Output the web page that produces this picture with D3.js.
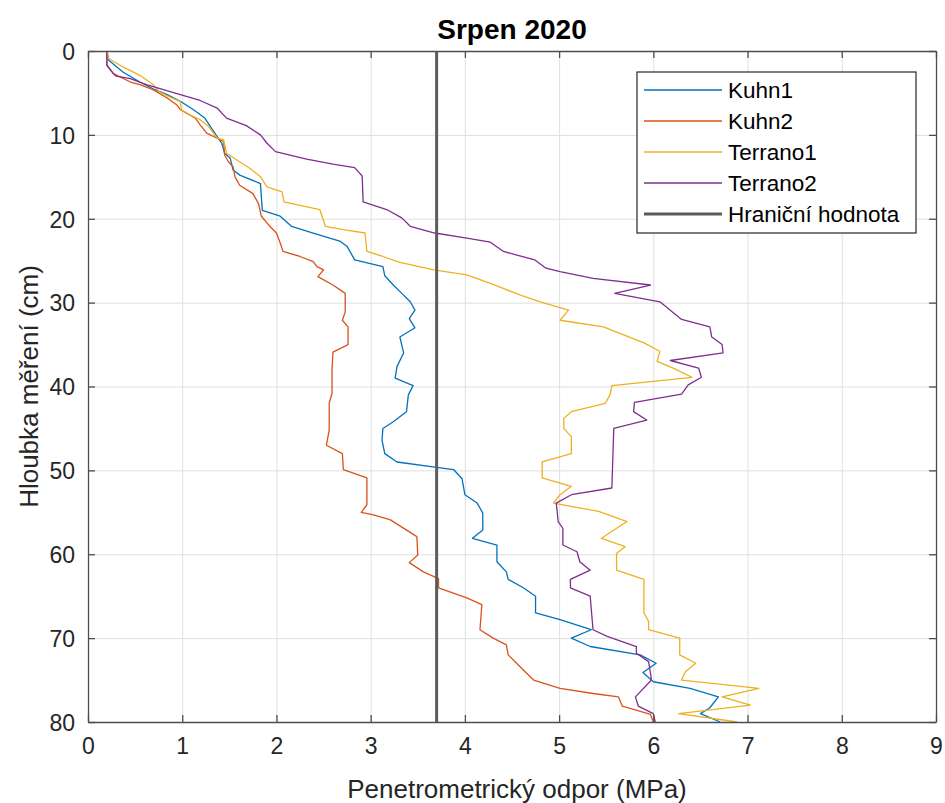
<!DOCTYPE html>
<html>
<head>
<meta charset="utf-8">
<script src="https://cdn.jsdelivr.net/npm/d3@7.9.0/dist/d3.min.js"></script>
<style>
  body { margin: 0; background: #fff; }
  svg { display: block; font-family: "Liberation Sans", Arial, sans-serif; }
</style>
</head>
<body>
<div id="chart"></div>
<script>
// Series: [odpor (MPa), hloubka (cm)]
const kuhn1 = [[0.2,0],[0.22,1.1],[0.37,2.5],[0.55,3.7],[0.69,4.5],[0.84,5.2],[0.98,6],[1.12,7],[1.24,8],[1.31,9.2],[1.37,10.2],[1.42,11],[1.45,12.2],[1.51,12.8],[1.54,14.2],[1.61,14.8],[1.83,15.8],[1.85,19],[2.04,19.7],[2.16,20.9],[2.39,21.7],[2.68,22.7],[2.75,23.3],[2.83,24.9],[3.13,25.7],[3.15,26.8],[3.24,27.9],[3.33,28.9],[3.42,29.9],[3.47,30.9],[3.41,31.9],[3.47,33],[3.31,34.1],[3.35,36],[3.28,37.6],[3.26,39],[3.45,39.9],[3.4,41],[3.38,43],[3.24,44.2],[3.13,45],[3.12,46.4],[3.15,48],[3.28,49],[3.68,49.6],[3.88,49.9],[3.97,51],[4.0,52.9],[4.13,53.9],[4.19,55.1],[4.19,57.1],[4.08,58.1],[4.34,58.9],[4.34,60.9],[4.44,62.1],[4.46,63],[4.62,64],[4.75,65],[4.75,67],[5.01,67.8],[5.34,69],[5.13,70],[5.33,71],[5.86,72],[6.03,73],[5.89,74.1],[6.0,75.2],[6.39,76],[6.69,77],[6.6,78.3],[6.5,79],[6.71,80]];

const kuhn2 = [[0.2,0],[0.2,1.7],[0.27,2.7],[0.45,3.7],[0.55,4],[0.69,4.6],[0.84,5.6],[0.94,6.4],[0.98,7],[1.14,8],[1.19,8.8],[1.26,9.8],[1.37,10.4],[1.44,10.8],[1.45,12.4],[1.49,13.2],[1.54,13.8],[1.56,15],[1.61,16],[1.75,17],[1.81,18.2],[1.84,19.7],[1.93,20.9],[2.0,21.7],[2.04,22.9],[2.07,23.9],[2.25,24.5],[2.39,25.1],[2.43,25.7],[2.5,26.1],[2.44,26.9],[2.6,27.9],[2.73,28.9],[2.73,31.1],[2.7,32.1],[2.76,32.9],[2.76,35],[2.6,35.9],[2.59,38],[2.59,40.8],[2.56,42],[2.56,45.2],[2.53,47],[2.7,48],[2.71,49.9],[2.96,50.9],[2.96,54.1],[2.9,55],[3.03,55.3],[3.21,55.9],[3.49,57.9],[3.5,60.1],[3.41,61],[3.56,62.1],[3.72,62.9],[3.72,64],[4.02,65.2],[4.18,66],[4.16,69],[4.3,70],[4.44,70.8],[4.46,72],[4.62,73.8],[4.73,75],[5.01,76],[5.36,76.6],[5.63,77],[5.67,78.1],[5.79,78.5],[5.97,79.1],[6.0,80]];

const terrano1 = [[0.2,0],[0.22,0.9],[0.37,1.9],[0.55,2.9],[0.69,4],[0.76,4.9],[0.87,5.5],[0.98,6],[0.99,7],[1.08,7.6],[1.19,8.2],[1.28,9],[1.37,10.4],[1.44,10.6],[1.47,12.2],[1.58,13],[1.72,14],[1.83,15],[1.9,16.2],[2.06,16.8],[2.08,18],[2.25,18.4],[2.46,18.9],[2.52,20.9],[2.71,21.3],[2.94,21.7],[2.96,23.9],[3.13,24.5],[3.31,25.2],[3.67,26.1],[4.02,26.7],[4.27,27.7],[4.59,29.1],[4.8,29.9],[5.1,30.9],[5.01,32.1],[5.47,32.9],[5.9,34.8],[6.07,35.8],[6.04,37],[6.21,37.8],[6.41,38.9],[5.56,39.9],[5.54,41],[5.49,42],[5.13,43],[5.05,43.8],[5.05,45],[5.13,46],[5.13,48],[4.82,49],[4.82,50.9],[5.13,51.9],[5.01,52.9],[4.94,53.9],[5.42,54.9],[5.72,56.1],[5.45,58.1],[5.7,59.1],[5.61,59.9],[5.61,61.9],[5.9,63],[5.9,67],[5.95,68],[5.95,69],[6.28,70],[6.28,72],[6.45,73],[6.34,74],[6.3,75],[7.12,76],[6.73,77],[7.03,78],[6.27,79],[6.89,80]];

const terrano2 = [[0.2,0],[0.2,1.7],[0.27,2.7],[0.3,3],[0.45,3.3],[0.62,4],[0.8,4.6],[0.98,5.2],[1.19,5.9],[1.37,6.8],[1.47,8],[1.68,8.9],[1.83,10],[1.9,11],[1.99,12],[2.32,12.9],[2.6,13.5],[2.83,13.9],[2.91,14.9],[2.92,18],[3.17,18.9],[3.33,19.9],[3.42,20.9],[3.68,21.7],[4.02,22.3],[4.27,22.8],[4.41,23.9],[4.74,24.9],[4.86,25.9],[5.01,26.3],[5.36,27.1],[5.97,27.9],[5.59,28.9],[6.07,29.9],[6.18,30.9],[6.3,32],[6.6,32.9],[6.62,34.1],[6.73,35],[6.74,36],[6.18,36.9],[6.48,37.8],[6.51,38.9],[6.37,39.8],[6.3,40.9],[5.8,41.9],[5.79,43],[5.93,44],[5.58,45],[5.56,52.1],[5.13,52.9],[4.97,53.9],[4.99,56.1],[5.04,56.9],[5.04,58.9],[5.19,59.7],[5.22,60.9],[5.33,61.9],[5.12,63],[5.12,64],[5.33,65],[5.36,69],[5.51,69.8],[5.82,71],[5.82,71.8],[5.95,72.8],[5.97,74.2],[5.98,75],[5.81,77],[5.84,78.1],[6.0,79],[6.02,80]];

const threshold = 3.7;
const seriesNames = ['Kuhn1', 'Kuhn2', 'Terrano1', 'Terrano2'];
const seriesColors = ['#0072BD', '#D95319', '#EDB120', '#7E2F8E'];
const thresholdName = 'Hraniční hodnota';
const xTicks = [0, 1, 2, 3, 4, 5, 6, 7, 8, 9];
const yTicks = [0, 10, 20, 30, 40, 50, 60, 70, 80];

const allSeries = [kuhn1, kuhn2, terrano1, terrano2];

const width = 945;
const height = 803;
const margin = { top: 51, right: 9, bottom: 81, left: 88 };
const plotW = width - margin.left - margin.right;
const plotH = height - margin.top - margin.bottom;

const svg = d3.select('#chart').append('svg')
    .attr('width', width)
    .attr('height', height);

const xScale = d3.scaleLinear().domain([0, 9]).range([margin.left, margin.left + plotW]);
const yScale = d3.scaleLinear().domain([0, 80]).range([margin.top, margin.top + plotH]);

// grid
const grid = svg.append('g').attr('class', 'grid');
grid.append('g')
    .attr('transform', `translate(0, ${margin.top + plotH})`)
    .call(d3.axisBottom(xScale).tickValues(xTicks).tickFormat('').tickSize(-plotH));
grid.append('g')
    .attr('transform', `translate(${margin.left}, 0)`)
    .call(d3.axisLeft(yScale).tickValues(yTicks).tickFormat('').tickSize(-plotW));
grid.selectAll('.domain').remove();
grid.selectAll('line').attr('stroke', '#dfdfdf').attr('stroke-width', 1);

// series lines
const line = d3.line().x((d) => xScale(d[0])).y((d) => yScale(d[1]));
const plot = svg.append('g');
allSeries.forEach((s, i) => {
    plot.append('path')
        .datum(s)
        .attr('d', line)
        .attr('fill', 'none')
        .attr('stroke', seriesColors[i])
        .attr('stroke-width', 1.3)
        .attr('stroke-linejoin', 'round');
});

// threshold line
plot.append('line')
    .attr('x1', xScale(threshold)).attr('x2', xScale(threshold))
    .attr('y1', yScale(0)).attr('y2', yScale(80))
    .attr('stroke', '#5c5c5c')
    .attr('stroke-width', 3);

// axes (ticks point inward, box on)
const axisColor = '#4d4d4d';
const textColor = '#262626';
const xAxis = svg.append('g')
    .attr('transform', `translate(0, ${margin.top + plotH})`)
    .call(d3.axisBottom(xScale).tickValues(xTicks).tickSize(-7).tickPadding(16).tickSizeOuter(0));
const yAxis = svg.append('g')
    .attr('transform', `translate(${margin.left}, 0)`)
    .call(d3.axisLeft(yScale).tickValues(yTicks).tickSize(-7).tickPadding(13).tickSizeOuter(0));
const xTop = svg.append('g')
    .attr('transform', `translate(0, ${margin.top})`)
    .call(d3.axisTop(xScale).tickValues(xTicks).tickSize(-7).tickFormat('').tickSizeOuter(0));
const yRight = svg.append('g')
    .attr('transform', `translate(${margin.left + plotW}, 0)`)
    .call(d3.axisRight(yScale).tickValues(yTicks).tickSize(-7).tickFormat('').tickSizeOuter(0));

[xAxis, yAxis, xTop, yRight].forEach((g) => {
    g.selectAll('.domain').attr('stroke', axisColor).attr('stroke-width', 1.3);
    g.selectAll('line').attr('stroke', axisColor).attr('stroke-width', 1.3);
    g.selectAll('text').attr('fill', textColor).style('font-size', '23px')
        .style('font-family', '"Liberation Sans", Arial, sans-serif');
});
yAxis.selectAll('text').attr('dy', '0.36em');

// title and axis labels
svg.append('text')
    .attr('x', margin.left + plotW / 2)
    .attr('y', 39)
    .attr('text-anchor', 'middle')
    .attr('fill', '#000')
    .style('font-size', '28px')
    .style('font-weight', 'bold')
    .text('Srpen 2020');

svg.append('text')
    .attr('x', margin.left + plotW / 2 + 5)
    .attr('y', 798)
    .attr('text-anchor', 'middle')
    .attr('fill', textColor)
    .style('font-size', '26px')
    .text('Penetrometrický odpor (MPa)');

svg.append('text')
    .attr('transform', `translate(38, ${margin.top + plotH / 2}) rotate(-90)`)
    .attr('text-anchor', 'middle')
    .attr('fill', textColor)
    .style('font-size', '26px')
    .text('Hloubka měření (cm)');

// legend
const legend = svg.append('g').attr('transform', 'translate(637, 72)');
legend.append('rect')
    .attr('width', 279).attr('height', 161)
    .attr('fill', '#fff')
    .attr('stroke', '#262626')
    .attr('stroke-width', 1.2);

const legendItems = seriesNames.map((n, i) => ({ name: n, color: seriesColors[i], w: 1.3 }))
    .concat([{ name: thresholdName, color: '#5c5c5c', w: 3 }]);

legendItems.forEach((d, i) => {
    const cy = 18 + i * 31;
    legend.append('line')
        .attr('x1', 7).attr('x2', 85)
        .attr('y1', cy).attr('y2', cy)
        .attr('stroke', d.color)
        .attr('stroke-width', d.w);
    legend.append('text')
        .attr('x', 91)
        .attr('y', cy)
        .attr('dy', '0.36em')
        .attr('fill', '#000')
        .style('font-size', '22.5px')
        .text(d.name);
});
</script>
</body>
</html>
